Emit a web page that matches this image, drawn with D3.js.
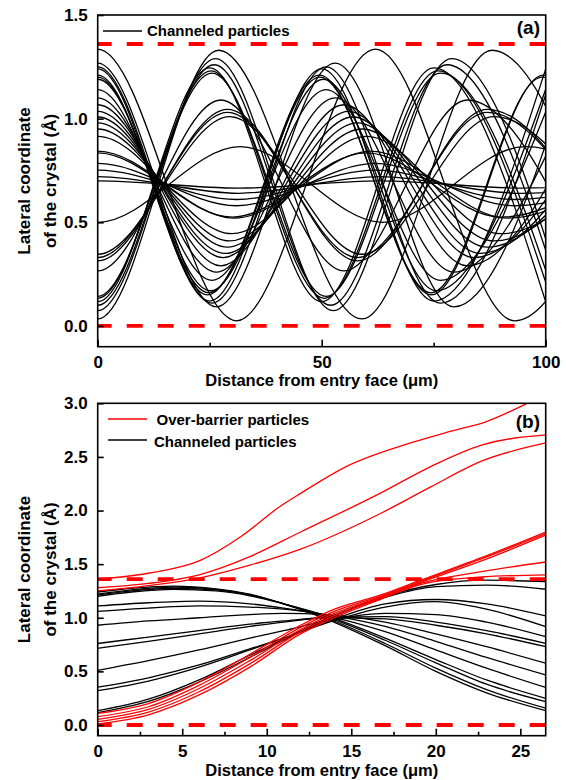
<!DOCTYPE html>
<html><head><meta charset="utf-8">
<script src="https://cdn.jsdelivr.net/npm/d3@7"></script>
<style>body{margin:0;background:#fff}</style>
</head><body>
<svg id="c" width="566" height="780" xmlns="http://www.w3.org/2000/svg"></svg>
<script>
// ---------- Panel (a) data ----------
const aXTicks = [0, 50, 100];
const aXMinor = [25, 75];
const aYTicks = [0.0, 0.5, 1.0, 1.5];
const aBarriers = [0, 1.36];
// starting lateral coordinate (turning point at entry), opposite turning value
const aStart = [1.335, 1.268, 1.25, 1.24, 1.21, 1.20, 1.19, 1.14, 1.10, 1.067, 1.035, 1.008, 0.98, 0.95, 0.915, 0.843, 0.835, 0.784, 0.752, 0.72, 0.70,
                0.50, 0.346, 0.33, 0.314, 0.266, 0.143, 0.133, 0.117, 0.10, 0.074, 0.034];
const aOpp   = [0.025, 0.092, 0.11, 0.12, 0.15, 0.16, 0.17, 0.22, 0.26, 0.29, 0.33, 0.35, 0.38, 0.41, 0.445, 0.52, 0.525, 0.58, 0.61, 0.64, 0.665,
                0.865, 1.01, 1.03, 1.045, 1.09, 1.22, 1.23, 1.245, 1.26, 1.29, 1.33];
// x positions (µm) of successive turning points
const aTurnX = [
  [0, 31, 62, 93, 124],
  [0, 26.5, 53, 79.5, 106],
  [0, 25.5, 51, 76.5, 102],
  [0, 25, 50, 75, 100],
  [0, 24.5, 49.5, 74.5, 99.5, 124],
  [0, 24.8, 49.6, 74.4, 99.2, 124],
  [0, 25.2, 50.4, 75.6, 100.8],
  [0, 25.5, 51, 76.5, 102],
  [0, 26.5, 53, 79.5, 106],
  [0, 27.5, 55, 82.5, 110],
  [0, 28, 56, 84, 112],
  [0, 28.5, 57, 85.5, 114],
  [0, 29, 58, 87, 116],
  [0, 29.5, 59, 88.5, 118],
  [0, 30, 60, 90, 120],
  [0, 30.5, 61, 91.5, 122],
  [0, 30, 60, 90, 120],
  [0, 31, 62, 93, 124],
  [0, 31, 62, 93, 124],
  [0, 31.5, 63, 94.5, 126],
  [0, 31.5, 63, 94.5, 126],
  [0, 31.8, 63.6, 95.4, 127],
  [0, 29.5, 59, 88.5, 118],
  [0, 29, 58, 87, 116],
  [0, 29, 58, 87, 116],
  [0, 27.5, 55, 82.5, 110],
  [0, 25.5, 51, 76.5, 102],
  [0, 25.3, 50.6, 75.9, 101.2],
  [0, 25, 50, 75, 100],
  [0, 26, 52, 78, 104],
  [0, 26.3, 52.6, 79, 105],
  [0, 27, 59, 88, 118]
];

// ---------- Panel (b) data ----------
const bXTicks = [0, 5, 10, 15, 20, 25];
const bXMinor = [2.5, 7.5, 12.5, 17.5, 22.5];
const bYTicks = [0.0, 0.5, 1.0, 1.5, 2.0, 2.5, 3.0];
const bBarriers = [0, 1.36];
const bChanneled = [
  [[0,1.24],[2,1.275],[4.5,1.295],[7,1.27],[9,1.22],[11,1.13],[13.5,0.99],[17,0.74],[20,0.50],[23,0.30],[26.5,0.133]],
  [[0,1.22],[2,1.26],[4.5,1.285],[7,1.265],[9,1.215],[11,1.13],[13.5,1.00],[17,0.76],[20,0.53],[23,0.33],[26.5,0.156]],
  [[0,1.21],[2,1.25],[4.5,1.275],[7,1.26],[9,1.21],[11,1.13],[13.5,1.01],[17,0.79],[20,0.58],[23,0.38],[26.5,0.218]],
  [[0,1.20],[2,1.24],[4.5,1.265],[7,1.25],[9,1.205],[11,1.13],[13.5,1.02],[17,0.81],[20,0.61],[23,0.42],[26.5,0.249]],
  [[0,1.11],[3,1.14],[6,1.155],[9,1.13],[11,1.09],[13.5,1.02],[17,0.87],[20,0.70],[23,0.53],[26.5,0.35]],
  [[0,1.06],[3,1.09],[6,1.11],[9,1.10],[11,1.08],[13.5,1.03],[17,0.92],[20,0.78],[23,0.63],[26.5,0.466]],
  [[0,0.93],[3,0.97],[6,1.00],[9,1.03],[11,1.04],[13.5,1.03],[17,0.96],[20,0.85],[23,0.73],[26.5,0.576]],
  [[0,0.76],[3,0.82],[6,0.88],[9,0.94],[11,0.97],[13.5,1.00],[17,0.99],[20,0.93],[23,0.85],[26.5,0.73]],
  [[0,0.715],[3,0.78],[6,0.85],[9,0.92],[11,0.96],[13.5,1.00],[17,1.01],[20,0.96],[23,0.88],[26.5,0.762]],
  [[0,0.51],[3,0.60],[6,0.70],[9,0.81],[11,0.88],[13.5,0.97],[17,1.04],[20,1.03],[23,0.96],[26.5,0.824]],
  [[0,0.352],[3,0.44],[6,0.56],[9,0.71],[11,0.81],[13.5,0.95],[17,1.10],[20,1.15],[23,1.08],[26.5,0.917]],
  [[0,0.32],[3,0.41],[6,0.54],[9,0.70],[11,0.81],[13.5,0.96],[17,1.13],[20,1.17],[23,1.13],[26.5,1.017]],
  [[0,0.133],[3,0.24],[6,0.42],[9,0.65],[11,0.80],[13.5,0.99],[17,1.19],[20,1.29],[23,1.305],[26.5,1.266]],
  [[0,0.115],[3,0.22],[6,0.40],[9,0.63],[11,0.79],[13.5,0.98],[17,1.20],[20,1.31],[23,1.35],[26.5,1.337]]
];
const bOver = [
  [[0,1.36],[3,1.415],[6,1.53],[8.5,1.76],[10.8,2.04],[12,2.16],[14.7,2.41],[18.5,2.63],[20.9,2.74],[23,2.83],[25.4,3.0],[26.5,3.09]],
  [[0,1.28],[3,1.32],[6,1.40],[9,1.57],[12,1.80],[16.7,2.16],[19.7,2.41],[22.7,2.61],[26.5,2.705]],
  [[0,1.25],[3,1.30],[6,1.37],[9,1.49],[12,1.64],[16.7,1.97],[19.7,2.22],[22.7,2.46],[26.5,2.63]],
  [[0,0.109],[3,0.20],[6,0.40],[9,0.66],[12,0.93],[14,1.08],[16.7,1.21],[19.1,1.35],[22.7,1.56],[26.5,1.80]],
  [[0,0.078],[3,0.17],[6,0.37],[9,0.63],[12,0.91],[14,1.06],[16.7,1.20],[19.1,1.34],[22.7,1.55],[26.5,1.785]],
  [[0,0.053],[3,0.145],[6,0.34],[9,0.60],[12,0.89],[14,1.04],[16.7,1.19],[19.1,1.33],[22.7,1.53],[26.5,1.77]],
  [[0,0.031],[3,0.12],[6,0.31],[9,0.57],[12,0.87],[14,1.02],[16.7,1.18],[19.1,1.32],[22.7,1.43],[26.5,1.52]],
  [[0,0.01],[3,0.095],[6,0.28],[9,0.54],[12,0.85],[14,1.00],[16.7,1.17],[19.1,1.31],[22.7,1.38],[26.5,1.40]]
];

// ---------- drawing ----------
const FONT = "'Liberation Sans', Arial, Helvetica, sans-serif";
const svg = d3.select("#c");
const defs = svg.append("defs");

function drawPanel(cfg) {
  const x = d3.scaleLinear(cfg.xDomain, [cfg.left, cfg.right]);
  const y = d3.scaleLinear(cfg.yDomain, [cfg.bottom, cfg.top]);
  const g = svg.append("g");
  defs.append("clipPath").attr("id", cfg.id).append("rect")
    .attr("x", cfg.left).attr("y", cfg.top)
    .attr("width", cfg.right - cfg.left).attr("height", cfg.bottom - cfg.top);
  const plot = g.append("g").attr("clip-path", `url(#${cfg.id})`);

  const styleAxis = sel => {
    sel.select(".domain").remove();
    sel.selectAll("line").attr("stroke", "#000").attr("stroke-width", 1.6);
    sel.selectAll("text").attr("font-family", FONT).attr("font-weight", "bold")
      .attr("font-size", 17).attr("fill", "#000");
  };
  g.append("g").attr("transform", `translate(0,${cfg.bottom})`)
    .call(d3.axisBottom(x).tickValues(cfg.xTicks).tickSize(-7).tickPadding(9).tickFormat(cfg.xFmt))
    .call(styleAxis);
  g.append("g").attr("transform", `translate(0,${cfg.bottom})`)
    .call(d3.axisBottom(x).tickValues(cfg.xMinor).tickSize(-4).tickFormat(""))
    .call(styleAxis);
  g.append("g").attr("transform", `translate(${cfg.left},0)`)
    .call(d3.axisLeft(y).tickValues(cfg.yTicks).tickSize(-6).tickPadding(10).tickFormat(d3.format(".1f")))
    .call(styleAxis);

  return { x, y, g, plot };
}

// Panel (a)
const A = drawPanel({ id: "clipA", xDomain: [0, 100], yDomain: [-0.1, 1.5],
  left: 97.7, right: 545.7, top: 15, bottom: 346.7,
  xTicks: aXTicks, xMinor: aXMinor, yTicks: aYTicks, xFmt: d3.format("d") });

const aSeries = aStart.map((s, i) => {
  const xs = aTurnX[i];
  const pts = [[-xs[1], aOpp[i]]];
  xs.forEach((t, k) => pts.push([t, k % 2 === 0 ? s : aOpp[i]]));
  return pts;
});
const lineA = d3.line().x(d => A.x(d[0])).y(d => A.y(d[1])).curve(d3.curveMonotoneX);
A.plot.selectAll("path.traj").data(aSeries).join("path").attr("class", "traj")
  .attr("d", lineA).attr("fill", "none").attr("stroke", "#000").attr("stroke-width", 1.3);
A.plot.selectAll("line.bar").data(aBarriers).join("line").attr("class", "bar")
  .attr("x1", A.x(0)).attr("x2", A.x(100)).attr("y1", d => A.y(d)).attr("y2", d => A.y(d))
  .attr("stroke", "#ff0000").attr("stroke-width", 3.8).attr("stroke-dasharray", "16,15").attr("stroke-dashoffset", 2);

// Panel (b)
const B = drawPanel({ id: "clipB", xDomain: [0, 26.5], yDomain: [-0.1, 3.0],
  left: 97.7, right: 545.7, top: 403.3, bottom: 735.7,
  xTicks: bXTicks, xMinor: bXMinor, yTicks: bYTicks, xFmt: d3.format("d") });
const lineB = d3.line().x(d => B.x(d[0])).y(d => B.y(d[1])).curve(d3.curveMonotoneX);
B.plot.selectAll("path.ch").data(bChanneled).join("path").attr("class", "ch")
  .attr("d", lineB).attr("fill", "none").attr("stroke", "#000").attr("stroke-width", 1.3);
B.plot.selectAll("path.ov").data(bOver).join("path").attr("class", "ov")
  .attr("d", lineB).attr("fill", "none").attr("stroke", "#ff0000").attr("stroke-width", 1.3);
B.plot.selectAll("line.bar").data(bBarriers).join("line").attr("class", "bar")
  .attr("x1", B.x(0)).attr("x2", B.x(26.5)).attr("y1", d => B.y(d)).attr("y2", d => B.y(d))
  .attr("stroke", "#ff0000").attr("stroke-width", 3.8).attr("stroke-dasharray", "16,15").attr("stroke-dashoffset", 2);

// frames
[A, B].forEach(P => {
  const [x0, x1] = P.x.range(), [y0, y1] = P.y.range();
  P.g.append("rect").attr("x", x0).attr("y", y1).attr("width", x1 - x0).attr("height", y0 - y1)
    .attr("fill", "none").attr("stroke", "#000").attr("stroke-width", 1.6);
});

// texts
function txt(sel, x, y, s, opt = {}) {
  return sel.append("text").attr("x", x).attr("y", y).text(s)
    .attr("font-family", FONT).attr("font-weight", opt.w || "bold")
    .attr("font-size", opt.size || 17).attr("fill", opt.fill || "#000")
    .attr("text-anchor", opt.anchor || "start");
}
function yTitle(cy) {
  [["Lateral coordinate", 30], ["of the crystal (Å)", 56]].forEach(([s, bx]) => {
    svg.append("text").attr("transform", `translate(${bx},${cy}) rotate(-90)`)
      .attr("text-anchor", "middle").attr("font-family", FONT).attr("font-weight", "bold")
      .attr("font-size", 17).attr("fill", "#000").text(s);
  });
}
yTitle(181);
yTitle(569.5);
txt(svg, 321.7, 386, "Distance from entry face (μm)", { anchor: "middle", size: 16.5 });
txt(svg, 321.7, 775.5, "Distance from entry face (μm)", { anchor: "middle", size: 16.5 });

// legends
svg.append("line").attr("x1", 103).attr("x2", 142).attr("y1", 31).attr("y2", 31).attr("stroke", "#000").attr("stroke-width", 1.5);
txt(svg, 147, 36, "Channeled particles", { size: 15 });
txt(svg, 540, 34, "(a)", { size: 19, anchor: "end" });

svg.append("line").attr("x1", 108).attr("x2", 147).attr("y1", 419).attr("y2", 419).attr("stroke", "#ff0000").attr("stroke-width", 1.5);
txt(svg, 156.5, 425, "Over-barrier particles", { size: 15 });
svg.append("line").attr("x1", 108).attr("x2", 147).attr("y1", 440).attr("y2", 440).attr("stroke", "#000").attr("stroke-width", 1.5);
txt(svg, 154, 446.5, "Channeled particles", { size: 15 });
txt(svg, 540, 427.5, "(b)", { size: 19, anchor: "end" });
</script>
</body></html>
